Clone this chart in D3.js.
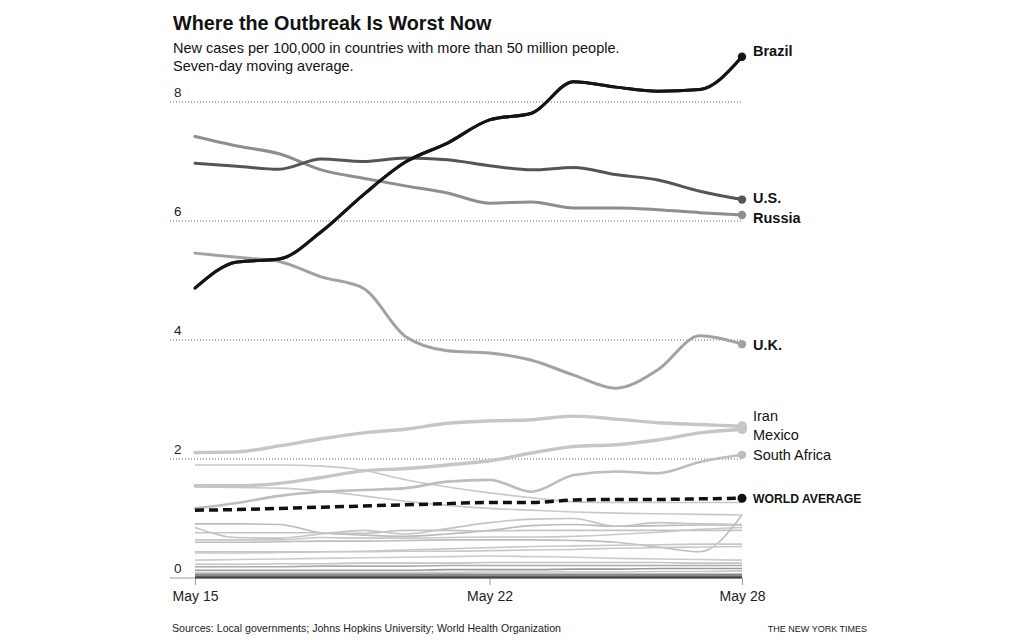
<!DOCTYPE html>
<html>
<head>
<meta charset="utf-8">
<script src="https://cdn.jsdelivr.net/npm/d3@7"></script>
<style>
  html, body { margin: 0; padding: 0; background: #fff; }
  svg { display: block; font-family: "Liberation Sans", Arial, Helvetica, sans-serif; }
</style>
</head>
<body>
<svg id="chart" width="1020" height="640"></svg>
<script>
// ---------- DATA ----------
const dates = ["2020-05-15","2020-05-16","2020-05-17","2020-05-18","2020-05-19","2020-05-20","2020-05-21",
               "2020-05-22","2020-05-23","2020-05-24","2020-05-25","2020-05-26","2020-05-27","2020-05-28"];
const tickDates = ["2020-05-15","2020-05-22","2020-05-28"];
const tickDateLabels = ["May 15","May 22","May 28"];
const yTicks = [0, 2, 4, 6, 8];

const brazil = [4.87,5.31,5.36,5.82,6.44,6.99,7.31,7.70,7.81,8.34,8.25,8.18,8.21,8.76];
const us     = [6.97,6.92,6.87,7.04,7.00,7.06,7.03,6.93,6.86,6.90,6.78,6.69,6.50,6.36];
const russia = [7.42,7.26,7.13,6.86,6.72,6.59,6.47,6.30,6.32,6.22,6.22,6.19,6.14,6.10];
const uk     = [5.46,5.39,5.32,5.06,4.87,4.06,3.82,3.78,3.66,3.41,3.19,3.50,4.07,3.93];
const iran   = [2.11,2.12,2.22,2.34,2.44,2.50,2.60,2.64,2.66,2.72,2.67,2.61,2.58,2.55];
const mexico = [1.55,1.55,1.59,1.69,1.80,1.84,1.90,1.97,2.10,2.21,2.24,2.32,2.44,2.50];
const southAfrica = [1.17,1.26,1.38,1.45,1.48,1.51,1.62,1.65,1.45,1.73,1.79,1.76,1.95,2.07];
const worldAverage = [1.14,1.15,1.17,1.19,1.21,1.23,1.25,1.27,1.27,1.31,1.32,1.32,1.33,1.34];

// other countries with more than 50 million people (unlabeled)
const others = [
  [1.90,1.90,1.90,1.88,1.81,1.65,1.53,1.43,1.35,1.28,1.27,1.27,1.27,1.27],
  [1.53,1.52,1.51,1.46,1.38,1.29,1.22,1.17,1.14,1.11,1.09,1.08,1.07,1.06],
  [0.91,0.91,0.90,0.76,0.72,0.70,0.74,0.80,0.88,0.90,0.87,0.88,0.89,0.89],
  [0.85,0.68,0.67,0.74,0.80,0.74,0.83,0.93,0.99,1.00,0.87,0.93,0.91,0.90],
  [0.76,0.76,0.76,0.76,0.75,0.80,0.80,0.79,0.80,0.80,0.80,0.80,0.80,0.80],
  [0.64,0.64,0.64,0.68,0.67,0.67,0.68,0.69,0.69,0.70,0.73,0.77,0.82,0.85],
  [0.60,0.60,0.61,0.62,0.62,0.63,0.64,0.64,0.64,0.63,0.60,0.52,0.44,1.06],
  [0.42,0.42,0.43,0.44,0.45,0.47,0.49,0.51,0.53,0.54,0.55,0.56,0.57,0.57],
  [0.44,0.44,0.44,0.44,0.44,0.45,0.45,0.46,0.47,0.48,0.50,0.51,0.52,0.53],
  [0.30,0.31,0.32,0.33,0.34,0.35,0.36,0.37,0.36,0.35,0.33,0.32,0.31,0.30],
  [0.23,0.23,0.24,0.24,0.25,0.25,0.25,0.26,0.26,0.26,0.26,0.26,0.25,0.25],
  [0.19,0.19,0.19,0.20,0.20,0.20,0.21,0.21,0.21,0.21,0.21,0.21,0.21,0.21],
  [0.13,0.13,0.13,0.13,0.13,0.13,0.14,0.14,0.14,0.15,0.15,0.16,0.16,0.16],
  [0.09,0.09,0.09,0.09,0.09,0.09,0.09,0.10,0.10,0.10,0.10,0.11,0.11,0.12],
  [0.06,0.06,0.06,0.06,0.06,0.06,0.06,0.06,0.06,0.06,0.06,0.06,0.06,0.06],
  [0.03,0.03,0.03,0.03,0.03,0.03,0.03,0.03,0.03,0.03,0.03,0.03,0.03,0.03],
  [0.01,0.01,0.01,0.01,0.01,0.01,0.01,0.01,0.01,0.01,0.01,0.01,0.01,0.01]
];
const otherColors = ["#c8c8c8","#c8c8c8","#bbbbbb","#c4c4c4","#c4c4c4","#c8c8c8","#bdbdbd","#c8c8c8",
                     "#c8c8c8","#cccccc","#c4c4c4","#aaaaaa","#999999","#c8c8c8","#888888","#777777","#444444"];

const labeled = [
  {name:"South Africa", values: southAfrica, color:"#bdbdbd", width:2.6, bold:false, labelDy:0},
  {name:"Mexico", values: mexico, color:"#c6c6c6", width:3.4, bold:false, labelDy:6},
  {name:"Iran", values: iran, color:"#c6c6c6", width:3.4, bold:false, labelDy:-10},
  {name:"U.K.", values: uk, color:"#a2a2a2", width:3, bold:true, labelDy:1},
  {name:"Russia", values: russia, color:"#8e8e8e", width:3, bold:true, labelDy:3},
  {name:"U.S.", values: us, color:"#555555", width:3, bold:true, labelDy:-2},
  {name:"Brazil", values: brazil, color:"#151515", width:3, bold:true, labelDy:-6}
];

// ---------- CHART ----------
const svg = d3.select("#chart");
const parse = d3.utcParse("%Y-%m-%d");
const x = d3.scaleUtc().domain([parse(dates[0]), parse(dates[dates.length-1])]).range([195, 742]);
const y = d3.scaleLinear().domain([0, 8]).range([578, 102]);

const line = d3.line()
  .x((d, i) => x(parse(dates[i])))
  .y(d => y(d))
  .curve(d3.curveMonotoneX);

// title
svg.append("text").attr("x", 173).attr("y", 30)
  .attr("font-size", 19.8).attr("font-weight", "bold").attr("fill", "#121212")
  .text("Where the Outbreak Is Worst Now");
svg.append("text").attr("x", 173).attr("y", 53)
  .attr("font-size", 14.5).attr("fill", "#121212")
  .text("New cases per 100,000 in countries with more than 50 million people.");
svg.append("text").attr("x", 173).attr("y", 71)
  .attr("font-size", 14.5).attr("fill", "#121212")
  .text("Seven-day moving average.");

// grid lines
const grid = svg.append("g");
yTicks.filter(t => t > 0).forEach(t => {
  grid.append("line").attr("x1", 170).attr("x2", 742)
    .attr("y1", y(t)).attr("y2", y(t))
    .attr("stroke", "#666").attr("stroke-width", 1).attr("stroke-dasharray", "1,2");
});
yTicks.forEach(t => {
  grid.append("text").attr("x", 174).attr("y", y(t) - 5)
    .attr("font-size", 13.5).attr("fill", "#222").text(t);
});

// x axis
const xAxis = d3.axisBottom(x)
  .tickValues(tickDates.map(parse))
  .tickFormat((d, i) => tickDateLabels[i])
  .tickSize(7).tickPadding(6);
const ax = svg.append("g").attr("transform", `translate(0,${y(0)})`).call(xAxis);
ax.select(".domain").remove();
ax.selectAll(".tick line").attr("stroke", "#999");
ax.selectAll(".tick text").attr("font-size", 14).attr("fill", "#222")
  .attr("font-family", "'Liberation Sans', Arial, sans-serif");
svg.append("line").attr("x1", 170).attr("x2", 742).attr("y1", y(0)).attr("y2", y(0))
  .attr("stroke", "#999").attr("stroke-width", 1);

// other countries
svg.append("g").selectAll("path").data(others).join("path")
  .attr("d", d => line(d))
  .attr("fill", "none")
  .attr("stroke", (d, i) => otherColors[i])
  .attr("stroke-width", (d, i) => i >= 14 ? 2 : 1.6);

// labeled countries
const lg = svg.append("g");
labeled.forEach(s => {
  lg.append("path").attr("d", line(s.values)).attr("fill", "none")
    .attr("stroke", s.color).attr("stroke-width", s.width).attr("stroke-linecap", "round");
});

// world average
svg.append("path").attr("d", line(worldAverage)).attr("fill", "none")
  .attr("stroke", "#111").attr("stroke-width", 3.5).attr("stroke-dasharray", "9,5");

// brazil on top again
const bz = labeled[labeled.length - 1];
lg.append("path").attr("d", line(bz.values)).attr("fill", "none")
  .attr("stroke", bz.color).attr("stroke-width", bz.width);

// end dots and labels
const last = dates.length - 1;
const xEnd = x(parse(dates[last]));
labeled.forEach(s => {
  const yv = y(s.values[last]);
  svg.append("circle").attr("cx", xEnd).attr("cy", yv).attr("r", s.width > 3 ? 5 : 4.2).attr("fill", s.color);
  svg.append("text").attr("x", xEnd + 11).attr("y", yv + s.labelDy + 5)
    .attr("font-size", 14.5).attr("font-weight", s.bold ? "bold" : "normal")
    .attr("fill", "#121212").text(s.name);
});
const wy = y(worldAverage[last]);
svg.append("circle").attr("cx", xEnd).attr("cy", wy).attr("r", 4.5).attr("fill", "#111");
svg.append("text").attr("x", xEnd + 11).attr("y", wy + 4.5)
  .attr("font-size", 12.2).attr("font-weight", "bold").attr("fill", "#121212").text("WORLD AVERAGE");

// footer
svg.append("text").attr("x", 172).attr("y", 632).attr("font-size", 10.6).attr("fill", "#222")
  .text("Sources: Local governments; Johns Hopkins University; World Health Organization");
svg.append("text").attr("x", 867).attr("y", 632).attr("text-anchor", "end")
  .attr("font-size", 9).attr("fill", "#222").text("THE NEW YORK TIMES");
</script>
</body>
</html>
